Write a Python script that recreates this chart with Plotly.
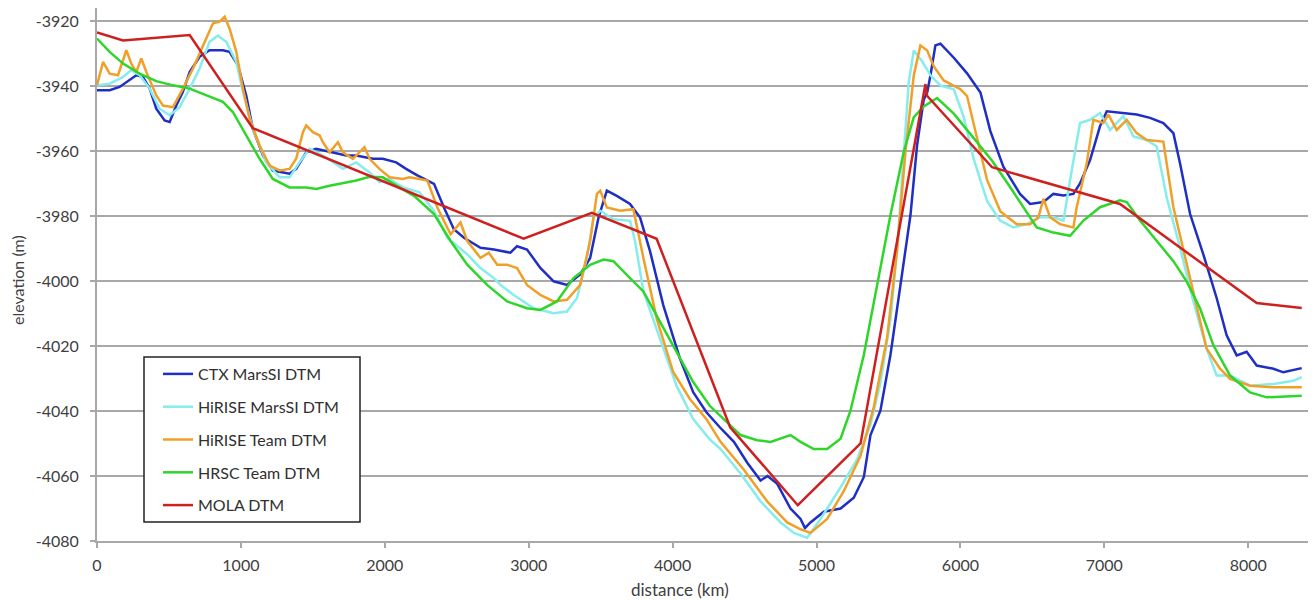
import plotly.graph_objects as go

# ---------------- data ----------------
ctx_x = [0, 88, 157, 227, 273, 319, 366, 412, 470, 505, 551, 597, 644, 713, 782, 875, 921, 979, 1037, 1083,
         1153, 1222, 1338, 1384, 1454, 1523, 1639, 1732, 1801, 1917, 1986, 2079, 2148, 2226, 2342, 2411, 2480,
         2550, 2665, 2758, 2873, 2919, 2988, 3081, 3173, 3266, 3358, 3427, 3485, 3543, 3612, 3704, 3774, 3843,
         3935, 4051, 4143, 4235, 4328, 4426, 4520, 4611, 4660, 4727, 4819, 4889, 4920, 4958, 5051, 5167, 5259,
         5329, 5375, 5444, 5514, 5583, 5653, 5699, 5745, 5769, 5792, 5826, 5861, 5954, 6046, 6139, 6208, 6299,
         6414, 6484, 6577, 6646, 6716, 6785, 6831, 6901, 6970, 7017, 7132, 7225, 7318, 7410, 7480, 7526, 7596,
         7688, 7781, 7850, 7920, 7989, 8059, 8175, 8244, 8372]
ctx_y = [-3941.3, -3941.3, -3940.3, -3938.2, -3936.7, -3937.2, -3940.8, -3947, -3950.6, -3951.1, -3946, -3941.8,
         -3935.7, -3931, -3929, -3929, -3929.5, -3933.6, -3942.9, -3953.2, -3961.4, -3966, -3967, -3965.5, -3960.4,
         -3959.3, -3960.4, -3961.4, -3961.4, -3962.4, -3962.4, -3963.5, -3965.5, -3967.5, -3970.1, -3977.4, -3984.1,
         -3986.7, -3989.8, -3990.3, -3991.3, -3989.3, -3990.3, -3996, -4000.1, -4001.2, -3998, -3992.9, -3980.5,
         -3972.2, -3973.8, -3976.3, -3980.5, -3990.8, -4007.4, -4023.9, -4034.2, -4040.4, -4045, -4049.5, -4056,
         -4061.4, -4060, -4062.4, -4070, -4073.2, -4076, -4074.3, -4071, -4070, -4066.7, -4060.3, -4047.4, -4039.9,
         -4022.7, -4001.2, -3979.7, -3958.2, -3944.2, -3942, -3936.7, -3927.5, -3927, -3931.3, -3936.1, -3942,
         -3953.9, -3964.9, -3973.2, -3976.3, -3975.7, -3973.2, -3973.7, -3973.2, -3970, -3962.8, -3952.4, -3947.8,
         -3948.3, -3948.8, -3949.8, -3951.4, -3954.5, -3963.8, -3979.4, -3991.8, -4005.3, -4016.7, -4022.9,
         -4021.8, -4026, -4027, -4028.1, -4026.8]

hirise_marssi_x = [0, 88, 181, 238, 296, 366, 435, 505, 574, 644, 713, 782, 840, 898, 968, 1014, 1083, 1176, 1269,
                   1338, 1407, 1477, 1570, 1639, 1709, 1801, 1894, 1963, 2033, 2125, 2241, 2342, 2434, 2573, 2665,
                   2758, 2804, 2896, 3035, 3173, 3266, 3335, 3404, 3450, 3497, 3589, 3704, 3739, 3797, 3912, 4027,
                   4143, 4258, 4333, 4472, 4611, 4750, 4843, 4935, 5028, 5167, 5282, 5375, 5444, 5514, 5560, 5606,
                   5641, 5676, 5734, 5792, 5861, 5954, 6023, 6093, 6185, 6275, 6368, 6461, 6553, 6646, 6716, 6762,
                   6831, 6901, 6970, 7040, 7132, 7202, 7295, 7364, 7433, 7526, 7619, 7711, 7781, 7874, 8013, 8175,
                   8314, 8372]
hirise_marssi_y = [-3939.8, -3939.3, -3937.2, -3935.1, -3936.7, -3940.8, -3947, -3949, -3946.5, -3940.8, -3934.6,
                   -3926.4, -3924.5, -3926.4, -3932.6, -3941.8, -3953.2, -3963.5, -3968.1, -3968.1, -3963.5, -3959.3,
                   -3961.4, -3963.5, -3965.5, -3963.5, -3966.6, -3969.6, -3968.6, -3971.2, -3972.7, -3978.4, -3986.7,
                   -3991.8, -3996, -3999.1, -4001.2, -4004.3, -4008.4, -4009.9, -4009.4, -4005.3, -3992.9, -3980.5,
                   -3978.4, -3981, -3981.5, -3987.7, -4003.2, -4017.7, -4032.2, -4042.5, -4048.7, -4051.7, -4059.2,
                   -4067.8, -4074.3, -4077.5, -4079, -4073.2, -4063.5, -4054.9, -4044.2, -4031.3, -4011.9, -3990.4,
                   -3961.4, -3938.8, -3929.1, -3932.4, -3936.7, -3939.9, -3941, -3949.6, -3962.5, -3975.4, -3981.4,
                   -3983.5, -3982.5, -3980.4, -3980.4, -3981.4, -3969, -3951.4, -3950.4, -3948.3, -3953.5, -3949.3,
                   -3955.5, -3956.6, -3958.6, -3974.2, -3989.7, -4006.3, -4020.8, -4029.1, -4029.1, -4032.2, -4031.7,
                   -4030.7, -4029.6]

hirise_team_x = [0, 42, 88, 146, 204, 238, 273, 308, 343, 412, 458, 528, 597, 667, 759, 806, 852, 887, 921, 968,
                 1014, 1060, 1130, 1199, 1269, 1338, 1384, 1431, 1454, 1500, 1547, 1570, 1616, 1674, 1709, 1778,
                 1859, 1894, 1963, 2033, 2125, 2172, 2241, 2296, 2365, 2457, 2526, 2573, 2665, 2723, 2781, 2850,
                 2919, 2988, 3081, 3173, 3266, 3358, 3427, 3474, 3497, 3543, 3635, 3727, 3797, 3889, 4004, 4120,
                 4235, 4333, 4495, 4657, 4796, 4889, 4958, 5074, 5190, 5306, 5398, 5491, 5560, 5618, 5676, 5722,
                 5769, 5815, 5884, 6000, 6046, 6116, 6185, 6278, 6391, 6484, 6542, 6577, 6623, 6692, 6785, 6808,
                 6878, 6924, 6993, 7028, 7086, 7156, 7225, 7295, 7410, 7480, 7572, 7642, 7711, 7804, 7874, 8013,
                 8175, 8372]
hirise_team_y = [-3939.8, -3932.6, -3936.2, -3936.7, -3929, -3933.1, -3935.7, -3931.5, -3935.7, -3942.9, -3946,
                 -3946.5, -3940.8, -3934.6, -3925.4, -3920.7, -3920.2, -3918.7, -3922.3, -3929.5, -3940.8, -3950,
                 -3958.3, -3964.5, -3966, -3965.5, -3962.4, -3954.2, -3952.1, -3954.2, -3955.2, -3957.3, -3960.4,
                 -3957.3, -3960.4, -3962.4, -3958.8, -3962.4, -3965.5, -3968.1, -3968.6, -3968.1, -3968.6, -3969.1,
                 -3977.4, -3985.6, -3982, -3987.7, -3992.9, -3991.3, -3995, -3995, -3996, -4001.2, -4004.3, -4006.3,
                 -4005.8, -4001.2, -3987.7, -3973.2, -3972.2, -3977.4, -3978.4, -3977.9, -3992.9, -4011.5, -4028,
                 -4036.3, -4042.5, -4049.5, -4058.1, -4067.8, -4074.3, -4076.4, -4077.5, -4073.2, -4064.6, -4053.8,
                 -4038.8, -4017.3, -3990.4, -3960.3, -3936.7, -3927.5, -3929.1, -3934, -3938.3, -3941, -3943.1,
                 -3956, -3968.9, -3978.6, -3982.5, -3982.5, -3980.4, -3974.7, -3980.4, -3982.5, -3983.5, -3977.3,
                 -3963.8, -3950.4, -3951.4, -3948.8, -3953.5, -3950.4, -3954.5, -3956.6, -3957.1, -3977.3, -3994.9,
                 -4008.4, -4020.8, -4027, -4030.1, -4032.2, -4032.7, -4032.7]

hrsc_x = [0, 88, 181, 296, 412, 528, 644, 759, 875, 944, 1037, 1130, 1222, 1338, 1454, 1523, 1616, 1801, 1894,
          1986, 2102, 2203, 2342, 2457, 2573, 2711, 2850, 2988, 3081, 3196, 3312, 3427, 3520, 3589, 3704, 3797,
          3912, 4027, 4143, 4258, 4333, 4472, 4588, 4681, 4819, 4889, 4981, 5074, 5167, 5236, 5329, 5421, 5514,
          5606, 5676, 5745, 5838, 5954, 6093, 6220, 6345, 6438, 6530, 6646, 6762, 6855, 6970, 7109, 7156, 7248,
          7364, 7480, 7572, 7665, 7758, 7874, 8013, 8128, 8372]
hrsc_y = [-3925.4, -3929.5, -3933.1, -3936.2, -3938.5, -3939.8, -3940.8, -3942.9, -3944.9, -3948, -3955.2,
          -3962.4, -3968.6, -3971.2, -3971.2, -3971.7, -3970.7, -3969.1, -3967.9, -3968.1, -3971.2, -3973.8,
          -3979.4, -3987.7, -3995, -4001.2, -4006.3, -4008.4, -4008.9, -4006.3, -3999.1, -3995, -3993.4, -3993.9,
          -3999.1, -4003.2, -4012.5, -4021.8, -4031.1, -4038.4, -4041.5, -4047.4, -4049, -4049.5, -4047.4,
          -4049.5, -4051.7, -4051.7, -4048.5, -4039.9, -4022.7, -4001.2, -3979.7, -3960.3, -3949.6, -3946.3,
          -3943.7, -3948.5, -3956, -3963, -3971.1, -3977.3, -3983.5, -3985.1, -3986.1, -3981.4, -3977.3, -3975.2,
          -3975.7, -3981.4, -3987.7, -3993.9, -4000.1, -4008.4, -4019.8, -4029.1, -4034.3, -4035.8, -4035.3]

mola_x = [0, 181, 644, 1083, 2965, 3439, 3889, 4400, 4870, 5306, 5757, 5768, 6220, 7109, 8059, 8372]
mola_y = [-3923.5, -3926, -3924.3, -3953, -3987, -3979, -3987, -4045, -4069, -4050, -3939.4, -3943, -3965,
          -3976.3, -4006.8, -4008.3]

series_names = ["CTX MarsSI DTM", "HiRISE MarsSI DTM", "HiRISE Team DTM", "HRSC Team DTM", "MOLA DTM"]
series_colors = ["#1f2fc4", "#86ecec", "#f0a028", "#2fd62a", "#cf2020"]

x_tick_vals = [0, 1000, 2000, 3000, 4000, 5000, 6000, 7000, 8000]
x_tick_text = ["0", "1000", "2000", "3000", "4000", "5000", "6000", "7000", "8000"]
y_tick_vals = [-3920, -3940, -3960, -3980, -4000, -4020, -4040, -4060, -4080]
y_tick_text = ["-3920", "-3940", "-3960", "-3980", "-4000", "-4020", "-4040", "-4060", "-4080"]

x_title = "distance (km)"
y_title = "elevation (m)"

# ---------------- figure ----------------
xs = [ctx_x, hirise_marssi_x, hirise_team_x, hrsc_x, mola_x]
ys = [ctx_y, hirise_marssi_y, hirise_team_y, hrsc_y, mola_y]

fig = go.Figure()
for name, color, x, y in zip(series_names, series_colors, xs, ys):
    fig.add_trace(go.Scatter(x=x, y=y, mode="lines", name=name, legendgroup=name,
                             line=dict(color=color, width=2.5)))

axis_col = "#a8a8a8"
txt_col = "#404040"
font_fam = "Lato, 'Open Sans', sans-serif"

# the page places the figure 8 px in from the top-left corner
OFF = 8
W, H = 1316 - OFF, 600 - OFF
ML, MR, MT, MB = 97 - OFF, 0, 0, 59
PW, PH = W - ML - MR, H - MT - MB


def px_x(p):
    return (p - OFF - ML) / PW


def px_y(p):
    return (H - MB - (p - OFF)) / PH


fig.update_layout(
    width=W, height=H,
    margin=dict(l=ML, r=MR, t=MT, b=MB, autoexpand=False),
    paper_bgcolor="white", plot_bgcolor="white",
    font=dict(family=font_fam, color=txt_col, size=16),
    showlegend=True,
    legend=dict(x=px_x(158), y=px_y(357), xanchor="left", yanchor="top",
                bgcolor="rgba(0,0,0,0)", borderwidth=0,
                font=dict(size=16, color="#303030"),
                traceorder="grouped", tracegroupgap=9),
    xaxis=dict(range=[0, 8471], tickmode="array", tickvals=x_tick_vals, ticktext=x_tick_text,
               showgrid=False, zeroline=False, showline=True, linecolor=axis_col, linewidth=2,
               ticks="outside", ticklen=5, tickcolor=axis_col, tickwidth=1.5,
               ticklabelstandoff=4, automargin=False,
               tickfont=dict(size=16, color=txt_col)),
    yaxis=dict(range=[-4080, -3916], tickmode="array", tickvals=y_tick_vals, ticktext=y_tick_text,
               showgrid=True, gridcolor=axis_col, gridwidth=2, zeroline=False,
               showline=True, linecolor=axis_col, linewidth=2,
               ticks="outside", ticklen=5, tickcolor=axis_col, tickwidth=1.5,
               ticklabelstandoff=8, automargin=False,
               tickfont=dict(size=16, color=txt_col)),
    shapes=[dict(type="rect", xref="paper", yref="paper",
                 x0=px_x(144), x1=px_x(360), y0=px_y(522), y1=px_y(357),
                 line=dict(color="#222222", width=1.5), fillcolor="white", layer="above")],
    annotations=[
        dict(text=x_title, xref="paper", yref="paper", x=px_x(680), y=px_y(589),
             xanchor="center", yanchor="middle", showarrow=False,
             font=dict(size=17, color=txt_col)),
        dict(text=y_title, xref="paper", yref="paper", x=px_x(17), y=px_y(280),
             xanchor="center", yanchor="middle", showarrow=False, textangle=-90,
             font=dict(size=16, color=txt_col)),
    ],
)

fig.write_html("out.html")
